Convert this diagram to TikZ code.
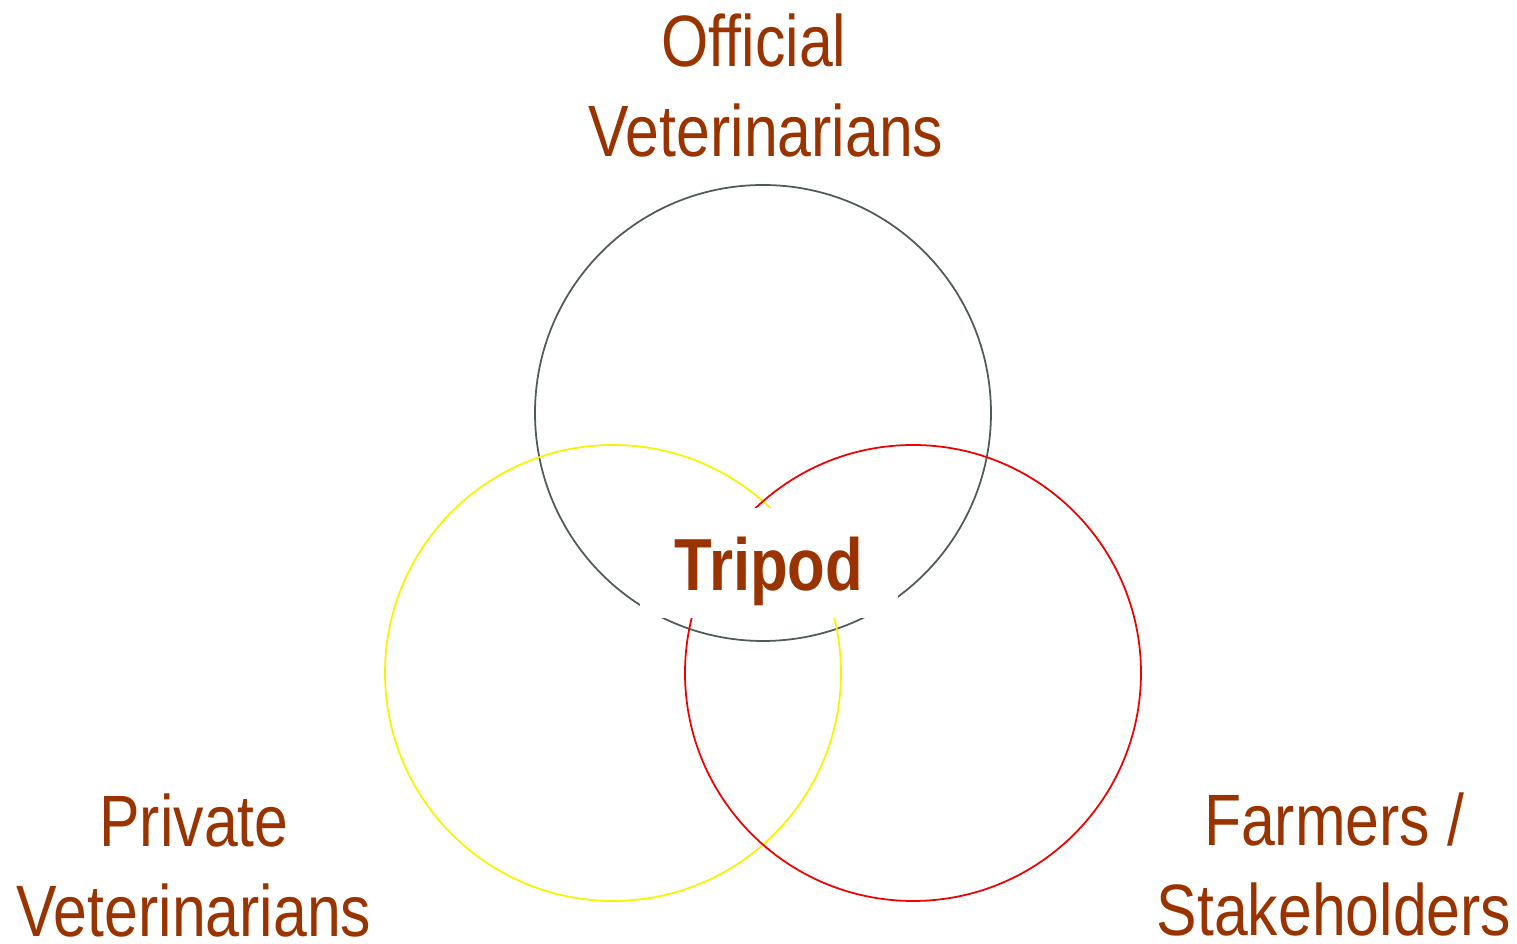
\documentclass[tikz,border=0pt]{standalone}
\usepackage{fontspec}
\setmainfont{Liberation Sans}[FakeStretch=0.835]
\definecolor{rust}{HTML}{993300}
\definecolor{slate}{HTML}{515A5A}
\definecolor{vennyellow}{HTML}{F5F500}
\definecolor{vennred}{HTML}{F00000}

\begin{document}
\begin{tikzpicture}[
        ring/.style={line width=0.5pt},
        grouptext/.style={text=rust, align=center, inner sep=0pt, anchor=north,
            font=\fontsize{20.7}{25.6}\selectfont}
    ]
        \useasboundingbox (0,0) rectangle (15.17,9.44);
        \draw[ring, slate] (7.63,5.31) circle (2.28);
        \draw[ring, vennyellow] (6.13,2.71) circle (2.28);
        \draw[ring, vennred] (9.13,2.71) circle (2.28);
        \node[fill=white, text=rust, inner sep=0pt, minimum width=2.58cm, minimum height=1.10cm,
            text height=0.55cm, text depth=0pt, font=\fontsize{21}{26}\selectfont\bfseries]
            (tripod) at (7.69,3.81) {Tripod};
        \node[grouptext] (official) at (7.66,9.31) {Official\hspace*{0.33em}\\Veterinarians};
        \node[grouptext] (private) at (1.94,1.51) {Private\\Veterinarians};
        \node[grouptext] (farmers) at (13.34,1.52) {Farmers /\\Stakeholders};
    \end{tikzpicture}
\end{document}
